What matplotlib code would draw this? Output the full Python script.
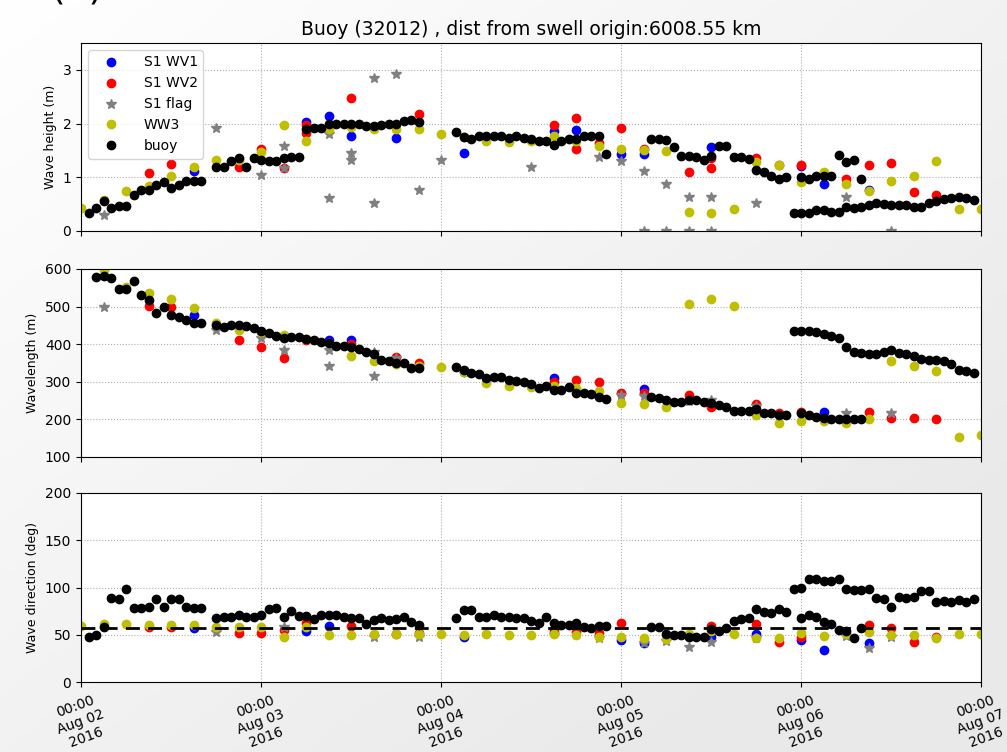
import numpy as np
import pandas as pd
import matplotlib
matplotlib.use("Agg")
import matplotlib.pyplot as plt
import matplotlib.dates as mdates

t0 = pd.Timestamp("2016-08-02")
x_ticks = pd.date_range("2016-08-02", "2016-08-07", freq="D")

# ---- WW3 model, every 3 hours (0..120 h)
ww3_hours = list(range(0, 121, 3))
ww3_hs = [0.43, 0.58, 0.75, 0.83, 1.02, 1.20, 1.33, 1.33, 1.47, 1.97, 1.67, 1.90, 1.93, 1.89,
          1.89, 1.89, 1.81, 1.75, 1.68, 1.66, 1.68, 1.77, 1.68, 1.59, 1.52, 1.50, 1.49, 0.36,
          0.33, 0.41, 1.28, 1.22, 0.91, 1.10, 0.88, 0.74, 0.94, 1.02, 1.30, 0.41, 0.41]
ww3_wl = [615, 597, 551, 535, 519, 495, 457, 438, 433, 425, 413, 402, 369, 354, 348, 341,
          340, 325, 298, 289, 285, 289, 283, 276, 243, 241, 234, 506, 520, 502, 212, 191,
          197, 197, 191, 200, 354, 342, 330, 154, 159]
ww3_dir = [59.3, 61.4, 61.4, 60.3, 60.3, 60.3, 58.5, 58.5, 58.5, 47.9, 58.5, 49.7, 49.7, 50.8,
           50.8, 50.8, 50.8, 49.7, 50.8, 49.7, 49.7, 50.8, 49.7, 47.9, 47.9, 46.2, 45.1, 51.3,
           54.0, 51.3, 46.2, 46.2, 52.2, 48.7, 50.8, 53.3, 49.7, 49.7, 46.2, 50.8, 50.8]

# ---- S1 WV1
wv1_hs_hours = [15, 30, 33, 36, 42, 51, 63, 66, 72, 75, 84, 96, 99, 105]
wv1_hs = [1.12, 2.03, 2.14, 1.77, 1.73, 1.46, 1.86, 1.88, 1.43, 1.43, 1.57, 1.21, 0.88, 0.77]
wv1_wl_hours = [15, 33, 36, 51, 63, 75, 99]
wv1_wl = [478, 411, 411, 327, 309, 280, 220]
wv1_dir_hours = [15, 30, 33, 51, 63, 72, 75, 84, 90, 96, 99, 105]
wv1_dir = [56.8, 54.4, 59.3, 47.3, 52.2, 44.4, 41.6, 47.9, 51.3, 44.4, 33.9, 41.3]

# ---- S1 WV2
wv2_hs_hours = [9, 12, 21, 24, 27, 30, 30, 36, 45, 63, 66, 66, 69, 72, 75, 81, 84, 84, 90, 93,
                96, 102, 105, 108, 111, 114]
wv2_hs = [1.08, 1.24, 1.19, 1.52, 1.17, 1.83, 1.97, 2.48, 2.18, 1.97, 2.11, 1.52, 1.64, 1.91,
          1.53, 1.10, 1.36, 1.18, 1.36, 1.22, 1.22, 0.96, 1.22, 1.27, 0.72, 0.67]
wv2_wl_hours = [9, 12, 21, 24, 27, 30, 36, 42, 45, 63, 66, 69, 72, 75, 81, 84, 90, 93, 96, 105,
                108, 111, 114]
wv2_wl = [502, 500, 411, 392, 364, 411, 400, 367, 350, 300, 305, 300, 271, 270, 265, 234, 241,
          218, 220, 220, 203, 203, 200]
wv2_dir_hours = [9, 12, 21, 24, 27, 30, 36, 42, 45, 63, 66, 69, 72, 84, 90, 93, 96, 105, 108,
                 111, 114]
wv2_dir = [58.5, 58.5, 52.2, 52.2, 55.0, 62.8, 59.3, 50.8, 52.0, 55.0, 53.3, 52.2, 62.8, 59.3,
           61.4, 42.7, 47.9, 60.3, 56.8, 42.7, 47.3]

# ---- S1 flagged
flag_hs_hours = [3, 18, 24, 27, 27, 33, 33, 36, 36, 39, 39, 42, 45, 48, 60, 69, 72, 75, 75, 78,
                 78, 81, 81, 84, 84, 90, 102, 108]
flag_hs = [0.30, 1.92, 1.05, 1.58, 1.17, 0.61, 1.81, 1.46, 1.33, 2.85, 0.52, 2.93, 0.77, 1.33,
           1.19, 1.38, 1.30, 1.11, 0.0, 0.88, 0.0, 0.64, 0.0, 0.64, 0.0, 0.53, 0.64, 0.0]
flag_wl_hours = [3, 18, 24, 27, 33, 33, 39, 39, 42, 72, 75, 81, 84, 90, 102, 108]
flag_wl = [498, 438, 416, 385, 385, 342, 380, 315, 363, 265, 263, 250, 252, 236, 216, 216]
flag_dir_hours = [18, 27, 39, 45, 69, 75, 78, 81, 84, 90, 102, 105, 108]
flag_dir = [53.0, 58.5, 47.9, 47.3, 46.2, 40.9, 43.4, 37.4, 42.7, 46.2, 49.0, 36.3, 47.9]

# ---- buoy (hourly)
buoy_hs_hours = (list(range(1, 17)) + list(range(18, 46)) + list(range(50, 71))
                 + list(range(76, 95)) + list(range(96, 105)) + list(range(95, 120)))
buoy_hs = [0.33, 0.43, 0.55, 0.43, 0.46, 0.46, 0.67, 0.77, 0.77, 0.86, 0.91, 0.80, 0.86, 0.93,
           0.94, 0.94,
           1.19, 1.20, 1.30, 1.36, 1.19, 1.36, 1.33, 1.30, 1.30, 1.35, 1.38, 1.38, 1.89, 1.92,
           1.92, 2.00, 2.00, 2.00, 2.00, 2.00, 1.96, 1.95, 1.97, 2.00, 2.00, 2.05, 2.06, 2.02,
           1.84, 1.75, 1.72, 1.76, 1.76, 1.76, 1.76, 1.73, 1.76, 1.73, 1.72, 1.68, 1.68, 1.61,
           1.68, 1.72, 1.72, 1.77, 1.77, 1.77, 1.43,
           1.71, 1.71, 1.69, 1.57, 1.39, 1.39, 1.38, 1.32, 1.39, 1.59, 1.59, 1.38, 1.38, 1.34,
           1.13, 1.10, 1.02, 0.97, 1.00,
           1.00, 0.97, 1.02, 1.03, 1.02, 1.41, 1.28, 1.33, 0.97,
           0.33, 0.33, 0.33, 0.39, 0.39, 0.36, 0.36, 0.44, 0.42, 0.45, 0.48, 0.52, 0.50, 0.48,
           0.48, 0.48, 0.44, 0.45, 0.52, 0.55, 0.59, 0.62, 0.64, 0.61, 0.58]

buoy_wl_hours = (list(range(2, 17)) + list(range(18, 46)) + list(range(50, 71))
                 + list(range(76, 95)) + list(range(96, 105)) + list(range(95, 120)))
buoy_wl = [580, 582, 577, 546, 546, 569, 531, 518, 482, 500, 478, 473, 464, 457, 457,
           451, 447, 451, 451, 448, 442, 435, 431, 422, 417, 420, 420, 413, 411, 407, 402,
           395, 395, 392, 386, 380, 374, 358, 354, 350, 350, 336, 336,
           339, 332, 324, 321, 309, 312, 312, 306, 303, 300, 294, 283, 289, 278, 278, 285,
           271, 271, 267, 260, 255,
           260, 258, 252, 247, 247, 252, 252, 247, 243, 239, 232, 223, 223, 223, 227, 218,
           216, 212, 212,
           218, 212, 207, 203, 200, 200, 200, 200, 200,
           435, 435, 435, 432, 428, 423, 416, 392, 380, 377, 375, 375, 380, 385, 377, 375,
           369, 361, 358, 358, 354, 347, 331, 330, 324]

buoy_dir_hours = (list(range(1, 17)) + list(range(18, 46)) + list(range(50, 71))
                  + list(range(76, 95)) + list(range(96, 105)) + list(range(95, 120)))
buoy_dir = [47.9, 49.7, 57.9, 89.2, 87.4, 98.0, 78.0, 78.0, 79.7, 87.4, 79.7, 87.4, 87.4, 79.7,
            78.0, 78.0,
            67.4, 69.1, 69.1, 70.9, 69.1, 69.1, 70.9, 76.9, 78.7, 69.1, 75.6, 70.0, 70.0, 66.3,
            70.9, 70.9, 70.9, 69.1, 67.4, 67.4, 61.0, 65.6, 67.4, 65.6, 66.3, 68.4, 63.8, 60.3,
            67.4, 76.2, 76.2, 69.1, 69.1, 70.9, 69.1, 69.1, 67.4, 67.4, 65.0, 62.1, 68.4, 62.1,
            60.3, 60.3, 62.1, 58.5, 56.8, 59.6, 59.6,
            58.5, 58.5, 50.8, 49.7, 49.7, 48.0, 48.0, 48.0, 55.7, 54.4, 56.8, 64.9, 66.3, 68.0,
            76.9, 74.4, 72.8, 76.9, 74.4,
            67.4, 70.9, 69.1, 63.8, 61.4, 55.0, 54.4, 46.2, 56.8,
            98.1, 99.2, 108.7, 108.7, 107.2, 107.2, 108.7, 98.1, 97.4, 97.4, 98.1, 88.5, 87.4,
            79.0, 89.6, 88.5, 89.6, 96.3, 96.3, 85.0, 86.0, 85.0, 86.8, 85.0, 87.4]

swell_dir_ref = 57


def to_time(hours):
    return t0 + pd.to_timedelta(np.array(hours, dtype=float), unit="h")


fig = plt.figure(figsize=(10.07, 7.52), dpi=100, facecolor="#f6f6f6")

# light diagonal gradient behind everything (screenshot background)
bg = fig.add_axes([0, 0, 1, 1], zorder=-10)
gx, gy = np.meshgrid(np.linspace(0, 1, 200), np.linspace(0, 1, 150))
shade = 1.0 - 0.085 * np.clip(0.6 * gx + 0.6 * gy, 0, 1)
bg.imshow(np.dstack([shade, shade, shade]), aspect="auto", extent=[0, 1, 0, 1],
          origin="upper")
bg.axis("off")

left, width = 81 / 1007, 900 / 1007
ax1 = fig.add_axes([left, 1 - 231 / 752, width, 188 / 752])
ax2 = fig.add_axes([left, 1 - 457 / 752, width, 188 / 752])
ax3 = fig.add_axes([left, 1 - 682 / 752, width, 189 / 752])

panels = [
    (ax1, (wv1_hs_hours, wv1_hs), (wv2_hs_hours, wv2_hs), (flag_hs_hours, flag_hs),
     ww3_hs, (buoy_hs_hours, buoy_hs)),
    (ax2, (wv1_wl_hours, wv1_wl), (wv2_wl_hours, wv2_wl), (flag_wl_hours, flag_wl),
     ww3_wl, (buoy_wl_hours, buoy_wl)),
    (ax3, (wv1_dir_hours, wv1_dir), (wv2_dir_hours, wv2_dir), (flag_dir_hours, flag_dir),
     ww3_dir, (buoy_dir_hours, buoy_dir)),
]

ms = 6
for ax, wv1, wv2, flag, ww3, buoy in panels:
    ax.plot(to_time(wv1[0]), wv1[1], "o", color="b", ms=ms, label="S1 WV1")
    ax.plot(to_time(wv2[0]), wv2[1], "o", color="r", ms=ms, label="S1 WV2")
    ax.plot(to_time(flag[0]), flag[1], "*", color="gray", ms=ms + 1.5, label="S1 flag")
    ax.plot(to_time(ww3_hours), ww3, "o", color="y", ms=ms, label="WW3")
    ax.plot(to_time(buoy[0]), buoy[1], "o", color="k", ms=ms, label="buoy")
    ax.set_xlim(x_ticks[0], x_ticks[-1])
    ax.set_xticks(x_ticks)
    ax.grid(True, linestyle=":", color="#b0b0b0", linewidth=0.8)
    ax.set_facecolor("white")
    ax.tick_params(labelsize=10)

ax3.axhline(swell_dir_ref, color="k", linestyle="--", linewidth=2, dashes=(5, 3))

ax1.set_ylim(0, 3.5)
ax1.set_yticks([0, 1, 2, 3])
ax1.set_ylabel("Wave height (m)", fontsize=9)
ax1.legend(loc="upper left", numpoints=1, fontsize=10, handlelength=2.5, handletextpad=1.1)
ax1.set_title("Buoy (32012) , dist from swell origin:6008.55 km", fontsize=13.5, pad=6)

ax2.set_ylim(100, 600)
ax2.set_yticks(range(100, 601, 100))
ax2.set_ylabel("Wavelength (m)", fontsize=9)

ax3.set_ylim(0, 200)
ax3.set_yticks(range(0, 201, 50))
ax3.set_ylabel("Wave direction (deg)", fontsize=9)

ax1.tick_params(labelbottom=False)
ax2.tick_params(labelbottom=False)
ax3.xaxis.set_major_formatter(mdates.DateFormatter("%H:%M\n%b %d\n%Y"))
plt.setp(ax3.get_xticklabels(), rotation=20, ha="center")

# panel letter, cut by the top edge as in the original screenshot
fig.text(77 / 1007, 1.0015, "(b)", ha="center", va="baseline", fontsize=27)

fig.savefig("out.png", dpi=100, facecolor=fig.get_facecolor())
